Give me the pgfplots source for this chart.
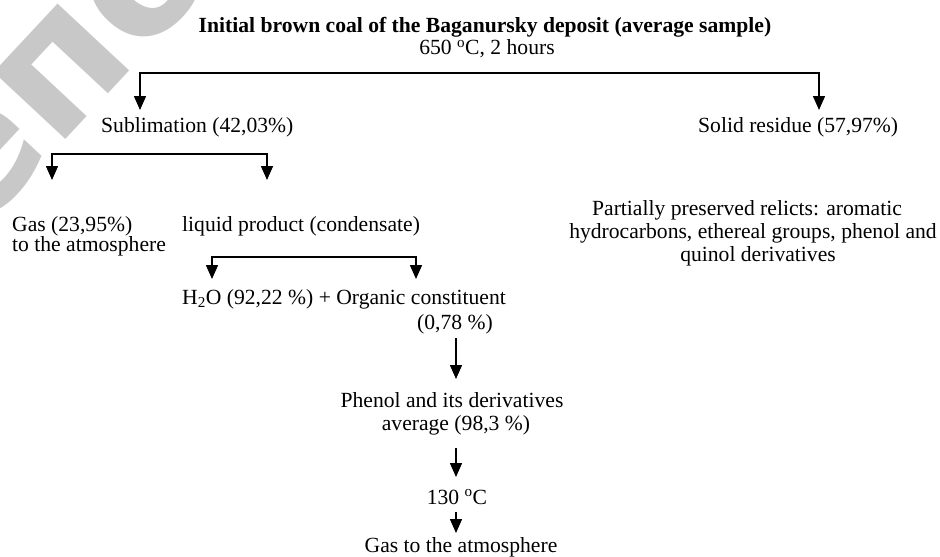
\documentclass[border=0pt]{standalone}
\usepackage{fontspec}
\setmainfont{Liberation Serif}
\newfontfamily\wm{DejaVu Sans}
\usepackage{pgfplots}
\pgfplotsset{compat=1.18}
\usetikzlibrary{arrows.meta}
\definecolor{wmgray}{RGB}{200,200,200}
\tikzset{t/.style={font=\fontsize{21.7}{25}\selectfont, inner sep=0pt}}
\begin{document}
\fontsize{21.7}{25}\selectfont
\begin{tikzpicture}
\begin{axis}[
  width=940bp, height=556bp, scale only axis,
  xmin=0, xmax=940, ymin=0, ymax=556, y dir=reverse,
  hide axis, clip=true,
]
% watermark
\node[rotate=47, anchor=base west, text=wmgray, inner sep=0pt, font=\wm\bfseries\fontsize{180}{180}\selectfont] at (axis cs:-28,240) {епо};

% connectors
\addplot[black, line width=1.5bp, {Triangle[width=12bp,length=14bp]}-{Triangle[width=12bp,length=14bp]}] coordinates {(140,110) (140,73) (819,73) (819,110)};
\addplot[black, line width=1.5bp, {Triangle[width=12bp,length=14bp]}-{Triangle[width=12bp,length=14bp]}] coordinates {(52,180) (52,154) (267,154) (267,180)};
\addplot[black, line width=1.5bp, {Triangle[width=12bp,length=14bp]}-{Triangle[width=12bp,length=14bp]}] coordinates {(212,279) (212,257) (416,257) (416,279)};
\addplot[black, line width=1.5bp, -{Triangle[width=12bp,length=14bp]}] coordinates {(456,338) (456,379)};
\addplot[black, line width=1.5bp, -{Triangle[width=12bp,length=14bp]}] coordinates {(456,448) (456,477)};
\addplot[black, line width=1.5bp, -{Triangle[width=12bp,length=14bp]}] coordinates {(456,512) (456,533)};

% texts
\node[t, anchor=base, font=\bfseries\fontsize{21.7}{25}\selectfont] at (axis cs:485,33) {Initial brown coal of the Baganursky deposit (average sample)};
\node[t, anchor=base] at (axis cs:487,55) {650 \textsuperscript{o}C, 2 hours};
\node[t, anchor=base west] at (axis cs:101,132) {Sublimation (42,03\%)};
\node[t, anchor=base west] at (axis cs:698,132) {Solid residue (57,97\%)};
\node[t, anchor=base west] at (axis cs:12,231) {Gas (23,95\%)};
\node[t, anchor=base west] at (axis cs:12,251) {to the atmosphere};
\node[t, anchor=base west] at (axis cs:182,231) {liquid product (condensate)};
\node[t, anchor=base] at (axis cs:747,215) {Partially preserved relicts: aromatic};
\node[t, anchor=base] at (axis cs:753,238) {hydrocarbons, ethereal groups, phenol and};
\node[t, anchor=base] at (axis cs:758,261) {quinol derivatives};
\node[t, anchor=base west] at (axis cs:182,304) {H\textsubscript{2}O (92,22 \%) + Organic constituent};
\node[t, anchor=base] at (axis cs:455,329) {(0,78 \%)};
\node[t, anchor=base] at (axis cs:452,407) {Phenol and its derivatives};
\node[t, anchor=base] at (axis cs:456,430) {average (98,3 \%)};
\node[t, anchor=base] at (axis cs:457,504) {130 \textsuperscript{o}C};
\node[t, anchor=base] at (axis cs:461,552) {Gas to the atmosphere};
\end{axis}
\pgfresetboundingbox
\path[use as bounding box] (current axis.south west) rectangle (current axis.north east);
\end{tikzpicture}
\end{document}
